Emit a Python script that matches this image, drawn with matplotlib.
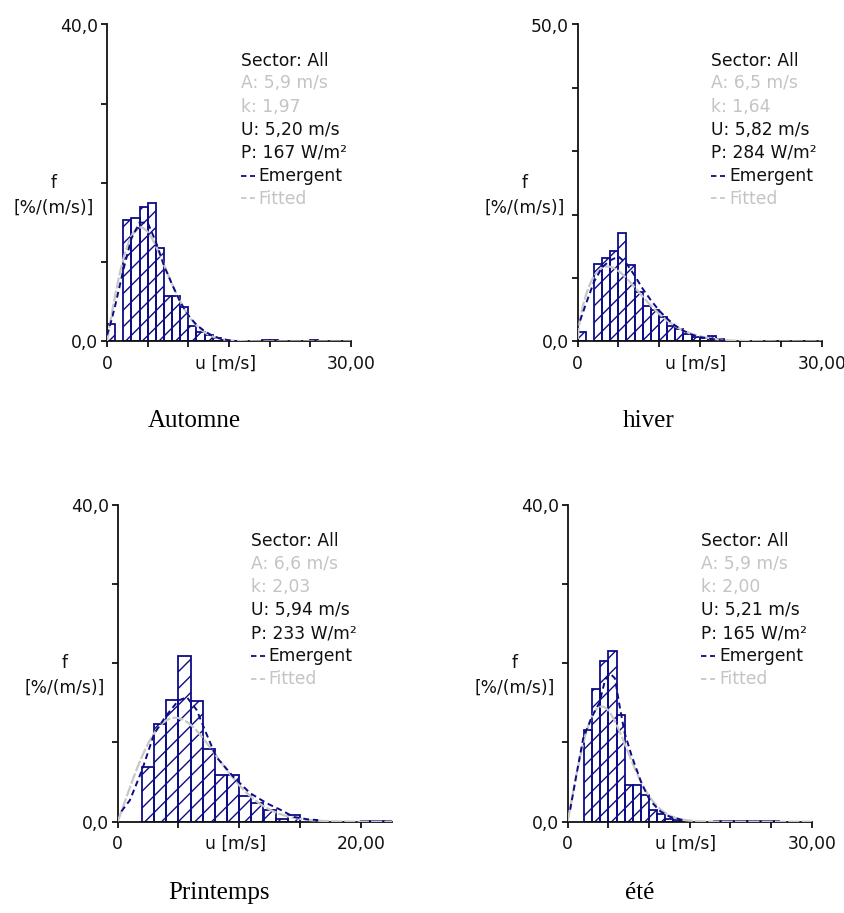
import matplotlib; matplotlib.use("Agg")
import matplotlib.pyplot as plt
from matplotlib.lines import Line2D
import numpy as np

NAVY = "#0c0c86"; GREY_TXT = "#c4c4c4"; GREY_FIT = "#c8c8c8"; BLACK = "#111111"
plt.rcParams.update({"font.family": "DejaVu Sans", "font.size": 12.3,
                     "hatch.linewidth": 1.0, "hatch.color": NAVY})

# histogram bins (left edge, m/s) and frequencies (%/(m/s))
aut_u = [0, 2, 3, 4, 5, 6, 7, 8, 9, 10, 11, 12, 13, 14, 19, 20, 25]
aut_f = [2.2, 15.3, 15.6, 17.0, 17.5, 11.8, 5.7, 5.7, 4.3, 2.0, 1.2, 0.8, 0.5, 0.2, 0.15, 0.15, 0.15]
hiv_u = [0, 2, 3, 4, 5, 6, 7, 8, 9, 10, 11, 12, 13, 14, 15, 16, 17, 24, 25, 27]
hiv_f = [1.5, 12.3, 13.1, 14.3, 17.1, 12.0, 7.8, 5.6, 4.9, 3.8, 2.5, 2.0, 1.2, 0.7, 0.6, 0.8, 0.4, 0.15, 0.15, 0.15]
pri_u = [2, 3, 4, 5, 6, 7, 8, 9, 10, 11, 12, 13, 14, 20, 21, 22]
pri_f = [6.9, 12.3, 15.4, 20.9, 15.2, 9.2, 5.9, 5.9, 3.3, 2.3, 1.5, 0.3, 0.8, 0.05, 0.05, 0.05]
ete_u = [2, 3, 4, 5, 6, 7, 8, 9, 10, 11, 12, 13, 18, 19, 20, 21, 22, 23, 24, 25]
ete_f = [11.6, 16.8, 20.3, 21.5, 13.5, 4.6, 4.6, 3.4, 1.5, 1.0, 0.4, 0.2, 0.1, 0.1, 0.1, 0.1, 0.1, 0.1, 0.1, 0.1]

# emergent distribution
aut_eu = [0, 0.5, 1, 2, 3, 4, 5, 6, 7, 8, 9, 10, 11, 12, 13, 14, 15, 16]
aut_ef = [0.8, 2.5, 4.5, 9.0, 13.0, 15.0, 15.0, 12.6, 9.6, 7.2, 5.0, 3.3, 2.1, 1.3, 0.7, 0.35, 0.15, 0.05]
hiv_eu = [0.3, 1, 2, 3, 4, 5, 6, 7, 8, 9, 10, 11, 12, 13, 14, 15, 16, 17, 18]
hiv_ef = [3.3, 5.9, 9.4, 11.7, 12.8, 13.4, 12.3, 10.4, 8.3, 6.5, 4.9, 3.6, 2.5, 1.7, 1.1, 0.7, 0.5, 0.3, 0.1]
pri_eu = [0.3, 1, 2, 3, 4, 5, 5.7, 6.5, 7.3, 8.1, 9.5, 10.9, 12.3, 13.4, 14.5, 15.6, 16.5]
pri_ef = [1.3, 2.7, 6.5, 11.1, 13.4, 15.3, 15.7, 14.1, 11.1, 8.2, 5.7, 3.6, 2.3, 1.5, 0.6, 0.3, 0.2]
ete_eu = [0.3, 1, 1.9, 3, 3.9, 4.6, 5.2, 5.8, 6.4, 7, 7.9, 9.1, 10.1, 11.4, 12.6, 14.2]
ete_ef = [1.5, 5.5, 10.5, 13.3, 15.0, 17.9, 18.7, 18.1, 14.5, 11.2, 8.2, 4.8, 2.7, 1.3, 0.6, 0.2]

# Weibull fit parameters and summary stats
weib_A = [5.9, 6.5, 6.6, 5.9]
weib_k = [1.97, 1.64, 2.03, 2.00]
A_txt = ["5,9", "6,5", "6,6", "5,9"]
k_txt = ["1,97", "1,64", "2,03", "2,00"]
U_txt = ["5,20", "5,82", "5,94", "5,21"]
P_txt = ["167", "284", "233", "165"]
seasons = ["Automne", "hiver", "Printemps", "été"]
ymax = [40, 50, 40, 40]
xmax = [30, 30, 22.6, 30]
xlab_max = ["30,00", "30,00", "20,00", "30,00"]
xtick_max = [30, 30, 20, 30]

W, H = 845, 913
fig = plt.figure(figsize=(W / 100, H / 100), dpi=100)

# axes frames in pixels: x0, y_bottom, px per m/s
frames = [(107, 341.5, 244 / 30), (577.7, 341.5, 244 / 30),
          (117.7, 821.7, 12.15), (567.7, 821.7, 244 / 30)]
caps = [(194, 421), (649, 421), (219, 893), (640, 893)]
hists = [(aut_u, aut_f), (hiv_u, hiv_f), (pri_u, pri_f), (ete_u, ete_f)]
emerg = [(aut_eu, aut_ef), (hiv_eu, hiv_ef), (pri_eu, pri_ef), (ete_eu, ete_ef)]

def fx(px): return px / W
def fy(py): return 1 - py / H

for i in range(4):
    x0, yb, sx = frames[i]
    hpx = 317
    ax = fig.add_axes([fx(x0), fy(yb), xmax[i] * sx / W, hpx / H])
    u, f = hists[i]
    ax.bar(u, f, width=1.0, align="edge", facecolor="none", edgecolor=NAVY,
           hatch="//", linewidth=1.3, zorder=2)
    uu = np.linspace(0.01, xmax[i], 400)
    A, k = weib_A[i], weib_k[i]
    wf = 100 * (k / A) * (uu / A) ** (k - 1) * np.exp(-(uu / A) ** k)
    ax.plot(uu, wf, color=GREY_FIT, lw=1.6, ls=(0, (5, 1)), zorder=3)
    eu, ef = emerg[i]
    ax.plot(eu, ef, color=NAVY, lw=1.4, ls=(0, (3, 2)), zorder=4)

    ax.set_xlim(0, xmax[i]); ax.set_ylim(0, ymax[i])
    for s in ("top", "right"):
        ax.spines[s].set_visible(False)
    for s in ("left", "bottom"):
        ax.spines[s].set_linewidth(1.3); ax.spines[s].set_color(BLACK)
    xt = list(range(0, xtick_max[i] + 1, 5))
    ax.set_xticks(xt)
    ax.set_xticklabels(["0"] + [""] * (len(xt) - 2) + [xlab_max[i]])
    ax.set_xticks([xtick_max[i] * 0.485], ["u [m/s]"], minor=True)
    yt = list(range(0, ymax[i] + 1, 10))
    ax.set_yticks(yt)
    ax.set_yticklabels(["0,0"] + [""] * (len(yt) - 2) + [f"{ymax[i]},0"])
    ax.tick_params(axis="x", which="major", pad=5.2)
    ax.tick_params(axis="y", which="major", pad=2)
    ax.tick_params(which="major", direction="out", length=4.3, width=1.3,
                   color=BLACK, labelcolor=BLACK)
    ax.tick_params(which="minor", length=0, pad=9.5, labelcolor=BLACK)
    ax.patch.set_alpha(0)

    # y label
    ytop = yb - hpx
    fig.text(fx(x0 - 53), fy(ytop + 158), "f", ha="center", va="center", color=BLACK)
    fig.text(fx(x0 - 53), fy(ytop + 183), "[%/(m/s)]", ha="center", va="center", color=BLACK)

    # stats block
    tx = x0 + (133.7 if i != 2 else 133)
    ty = ytop + (36 if i < 2 else 36.5)
    lines = [("Sector: All", BLACK), (f"A: {A_txt[i]} m/s", GREY_TXT), (f"k: {k_txt[i]}", GREY_TXT),
             (f"U: {U_txt[i]} m/s", BLACK), (f"P: {P_txt[i]} W/m²", BLACK)]
    for j, (t, c) in enumerate(lines):
        fig.text(fx(tx), fy(ty + 23 * j), t, ha="left", va="center", color=c)
    for j, (t, c, lc) in enumerate([("Emergent", BLACK, NAVY), ("Fitted", GREY_TXT, GREY_FIT)]):
        yy = fy(ty + 23 * (5 + j))
        fig.add_artist(Line2D([fx(tx), fx(tx + 14)], [yy, yy], color=lc, lw=1.3,
                              ls=(0, (3, 2))))
        fig.text(fx(tx + 18), yy, t, ha="left", va="center", color=c)

    cx, cy = caps[i]
    fig.text(fx(cx), fy(cy), seasons[i], ha="center", va="center",
             family="Liberation Serif", fontsize=18, color="black")

fig.savefig("out.png", dpi=100)
